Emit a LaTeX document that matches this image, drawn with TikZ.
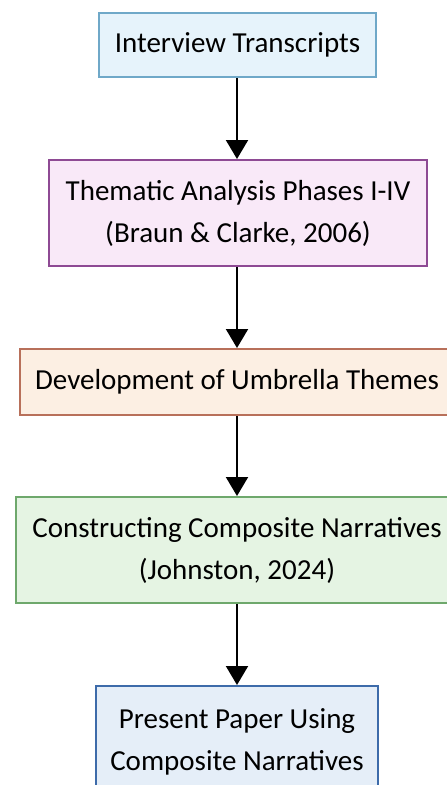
\documentclass[tikz,border=0pt]{standalone}
\usepackage{fontspec}
\setmainfont{Carlito}
\usetikzlibrary{arrows.meta}
\definecolor{b1fill}{HTML}{E6F3FB}
\definecolor{b1draw}{HTML}{6FA8C8}
\definecolor{b2fill}{HTML}{F9E9F8}
\definecolor{b2draw}{HTML}{8E4A94}
\definecolor{b3fill}{HTML}{FCEFE3}
\definecolor{b3draw}{HTML}{B8705A}
\definecolor{b4fill}{HTML}{E5F4E3}
\definecolor{b4draw}{HTML}{6EA86C}
\definecolor{b5fill}{HTML}{E5EEF8}
\definecolor{b5draw}{HTML}{3D6BAA}
\tikzset{
  box/.style={draw, line width=2pt, inner sep=0pt, align=center,
    font=\fontsize{29}{42}\selectfont, text=black},
  flow/.style={draw=black, line width=2pt, -{Triangle[width=22pt,length=19pt]}}
}
\begin{document}
\begin{tikzpicture}[x=1pt,y=-1pt]
\useasboundingbox (0,0) rectangle (447,785);
\fill[white] (0,0) rectangle (447,785);
\clip (0,0) rectangle (447,785);
\node[box, fill=b1fill, draw=b1draw, minimum width=277pt, minimum height=64pt] (a) at (237.5,45) {Interview Transcripts};
\node[box, fill=b2fill, draw=b2draw, minimum width=378pt, minimum height=106pt] (b) at (238,213) {Thematic Analysis Phases I-IV\\(Braun \& Clarke, 2006)};
\node[box, fill=b3fill, draw=b3draw, minimum width=434pt, minimum height=66pt] (c) at (237,382) {Development of Umbrella Themes};
\node[box, fill=b4fill, draw=b4draw, minimum width=442pt, minimum height=106pt] (d) at (237,550) {Constructing Composite Narratives\\(Johnston, 2024)};
\node[box, fill=b5fill, draw=b5draw, minimum width=282pt, minimum height=112pt] (e) at (237,742) {Present Paper Using\\Composite Narratives};
\draw[flow] (a.south -| 237,0) -- (b.north -| 237,0);
\draw[flow] (b.south -| 237,0) -- (c.north -| 237,0);
\draw[flow] (c.south -| 237,0) -- (d.north -| 237,0);
\draw[flow] (d.south -| 237,0) -- (e.north -| 237,0);
\end{tikzpicture}
\end{document}
